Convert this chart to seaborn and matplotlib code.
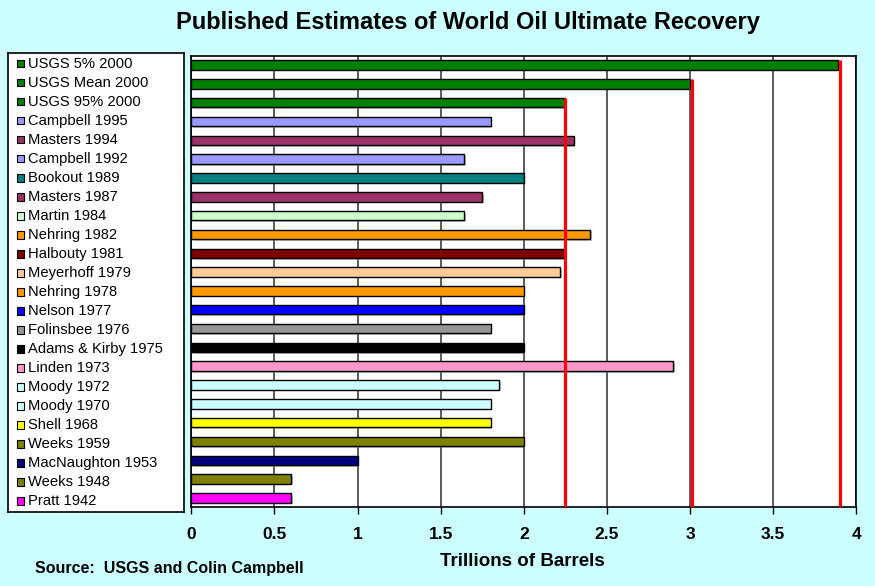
import numpy as np
import pandas as pd
import matplotlib

matplotlib.use('Agg')
import matplotlib.pyplot as plt
import matplotlib.patheffects as pe
import seaborn as sns

# 数据
labels = ["USGS 5% 2000", "USGS Mean 2000", "USGS 95% 2000", "Campbell 1995",
          "Masters 1994", "Campbell 1992", "Bookout 1989", "Masters 1987",
          "Martin 1984", "Nehring 1982", "Halbouty 1981", "Meyerhoff 1979",
          "Nehring 1978", "Nelson 1977", "Folinsbee 1976", "Adams & Kirby 1975",
          "Linden 1973", "Moody 1972", "Moody 1970", "Shell 1968",
          "Weeks 1959", "MacNaughton 1953", "Weeks 1948", "Pratt 1942"]
values = [3.89, 3.0, 2.245, 1.8, 2.3, 1.64, 2.0, 1.75, 1.64, 2.4, 2.24, 2.22,
          2.0, 2.0, 1.8, 2.0, 2.9, 1.85, 1.8, 1.8, 2.0, 1.0, 0.6, 0.6]
colors = ["#008000", "#008000", "#008000", "#9999FF", "#993366", "#9999FF",
          "#008080", "#993366", "#CCFFCC", "#FF9900", "#800000", "#FFCC99",
          "#FF9900", "#0000FF", "#969696", "#000000", "#FF99CC", "#CCFFFF",
          "#CCFFFF", "#FFFF00", "#808000", "#000080", "#808000", "#FF00FF"]
# USGS 参考线 (数值, 起始条目)
ref_values = [3.905, 3.01, 2.25]
ref_rows = ["USGS 5% 2000", "USGS Mean 2000", "USGS 95% 2000"]
x_ticks = [0, 0.5, 1, 1.5, 2, 2.5, 3, 3.5, 4]
x_ticklabels = ["0", "0.5", "1", "1.5", "2", "2.5", "3", "3.5", "4"]

sns.set_style("white")
plt.rcParams['font.family'] = ['Liberation Sans', 'DejaVu Sans']
plt.rcParams['text.color'] = 'black'
plt.rcParams['xtick.color'] = 'black'
bg = "#CCFFFF"

df = pd.DataFrame({'label': labels, 'value': values})
palette = dict(zip(labels, colors))
n = len(labels)

fig = plt.figure(figsize=(8.75, 5.86), dpi=100, facecolor=bg)
ax = fig.add_axes([0.2186, 0.1343, 0.760, 0.7707])
ax.set_facecolor('white')

sns.barplot(data=df, x='value', y='label', hue='label', palette=palette,
            saturation=1, legend=False, width=0.5, edgecolor='black', linewidth=1,
            orient='h', ax=ax, zorder=3)
for p in ax.patches:
    p.set_path_effects([pe.SimplePatchShadow(offset=(1.2, -1.2), shadow_rgbFace='gray', alpha=0.5),
                        pe.Normal()])

ax.set_xlim(0, 4)
ax.set_ylim(n - 0.5, -0.5)
ax.set_axisbelow(True)
ax.xaxis.grid(True, color='#404040', linewidth=1.2)
ax.set_xticks(x_ticks)
ax.set_xticklabels(x_ticklabels, fontweight='bold', fontsize=12.5, color='black')
ax.tick_params(axis='x', direction='out', length=5, width=1, color='black', pad=9, bottom=True)
ax.set_yticks([])
ax.set_xlabel('')
ax.set_ylabel('')
for s in ax.spines.values():
    s.set_color('black')
    s.set_linewidth(1.2)

# 红色参考线
for v, r in zip(ref_values, ref_rows):
    i = labels.index(r)
    ax.vlines(v, i - 0.25, n - 0.5, color='#FF0000', linewidth=2.3, zorder=4)

# 左侧图例
lax = fig.add_axes([0.0095, 0.1267, 0.2005, 0.7828])
lax.set_facecolor('white')
lax.set_xlim(0, 1)
lax.set_ylim(n - 0.45, -0.55)
lax.set_xticks([])
lax.set_yticks([])
for s in lax.spines.values():
    s.set_color('black')
    s.set_linewidth(1.2)
ypos = np.arange(n)
lax.scatter(np.full(n, 0.07), ypos, marker='s', s=30, c=colors, edgecolors='black', linewidths=0.8)
for i, lab in enumerate(labels):
    lax.text(0.11, ypos[i], lab, fontsize=10.6, va='center', ha='left', color='black')

fig.text(0.535, 1 - 22 / 586, 'Published Estimates of World Oil Ultimate Recovery',
         ha='center', va='center', fontsize=17, fontweight='bold', color='black')
fig.text(522 / 875, 1 - 562 / 586, 'Trillions of Barrels', ha='center', va='center',
         fontsize=13.5, fontweight='bold', color='black')
fig.text(35 / 875, 1 - 568 / 586, 'Source:  USGS and Colin Campbell', ha='left', va='center',
         fontsize=11.5, fontweight='bold', color='black')

fig.savefig('out.png', dpi=100, facecolor=bg)
